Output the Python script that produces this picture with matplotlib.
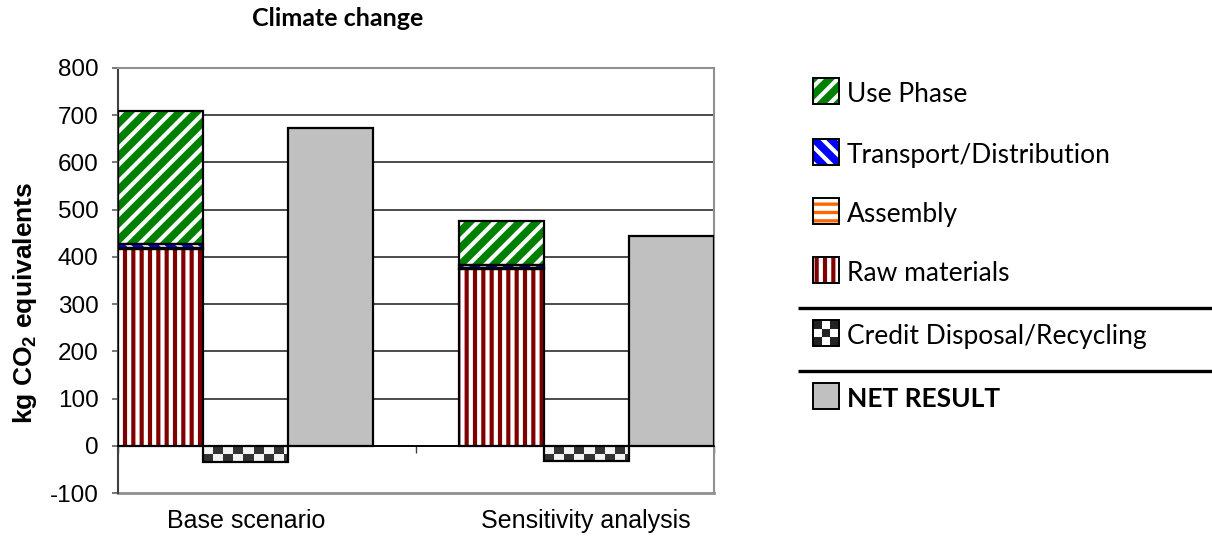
import numpy as np
import matplotlib
matplotlib.use("Agg")
import matplotlib.pyplot as plt
import matplotlib.transforms as mtransforms
from matplotlib.patches import Rectangle

# ---------------- data ----------------
categories = ["Base scenario", "Sensitivity analysis"]
raw_materials = [416, 374]
assembly = [3, 2]
transport = [9, 7]
use_phase = [280, 93]
credit = [-34, -32]
net_result = [674, 444]
yticks = [-100, 0, 100, 200, 300, 400, 500, 600, 700, 800]
legend_labels = ["Use Phase", "Transport/Distribution", "Assembly",
                 "Raw materials", "Credit Disposal/Recycling", "NET RESULT"]

W, H = 1212, 536
plt.rcParams["font.family"] = ["Liberation Sans", "DejaVu Sans"]
plt.rcParams["mathtext.fontset"] = "custom"
plt.rcParams["mathtext.rm"] = "Liberation Sans"
plt.rcParams["mathtext.bf"] = "Liberation Sans:bold"
LEG_FONT = ["Lato", "DejaVu Sans"]

fig = plt.figure(figsize=(W / 100, H / 100), dpi=100)
ax = fig.add_axes([118 / W, 1 - 493 / H, (714 - 118) / W, (493 - 68) / H])

styles = {
    "use": dict(face="#008000", hatch="//", hcol="white", hlw=3.0),
    "transport": dict(face="#0000FF", hatch="\\\\", hcol="white", hlw=3.0),
    "assembly": dict(face="white", hatch="--", hcol="#FF6600", hlw=2.4),
    "raw": dict(face="#800000", hatch="||", hcol="white", hlw=3.0),
}


def hatched_bar(axis, x, h, bottom, st, width=1.0):
    with plt.rc_context({"hatch.linewidth": st["hlw"]}):
        bars = axis.bar(x, h, width=width, bottom=bottom, color=st["face"],
                        hatch=st["hatch"], edgecolor=st["hcol"], linewidth=0,
                        zorder=2)
    for p in bars.patches:
        if hasattr(p, "set_hatch_linewidth"):
            p.set_hatch_linewidth(st["hlw"])
    axis.bar(x, h, width=width, bottom=bottom, fill=False,
             edgecolor="black", linewidth=1.6, zorder=3)
    return bars


group = np.array([0.0, 4.0])
raw = np.array(raw_materials, float)
asm = np.array(assembly, float)
trn = np.array(transport, float)
use = np.array(use_phase, float)

hatched_bar(ax, group, raw, 0, styles["raw"])
hatched_bar(ax, group, asm, raw, styles["assembly"])
hatched_bar(ax, group, trn, raw + asm, styles["transport"])
hatched_bar(ax, group, use, raw + asm + trn, styles["use"])

# credit bars with checkerboard texture
cb = ax.bar(group + 1, credit, width=1.0, color="white", linewidth=0, zorder=2)
cell_w = 10 / 85.0          # ~10 px per checker cell horizontally
cell_h = 8.5 / (425 / 900.0)  # ~8.5 px per checker cell vertically
for p, v in zip(cb.patches, credit):
    x0 = p.get_x()
    ncol = int(np.ceil(1.0 / cell_w)) + 1
    nrow = int(np.ceil(abs(v) / cell_h)) + 1
    board = (np.add.outer(np.arange(nrow), np.arange(ncol)) % 2)
    img = ax.imshow(board, cmap=matplotlib.colors.ListedColormap(["#f4f4f4", "#333333"]),
                    extent=(x0, x0 + ncol * cell_w, -nrow * cell_h, 0),
                    origin="upper", interpolation="nearest", aspect="auto",
                    zorder=2.1)
    img.set_clip_path(p)
ax.bar(group + 1, credit, width=1.0, fill=False, edgecolor="black",
       linewidth=1.6, zorder=3)

ax.bar(group + 2, net_result, width=1.0, color="#C0C0C0", edgecolor="black",
       linewidth=1.6, zorder=3)

ax.set_xlim(-0.5, 6.5)
ax.set_ylim(yticks[0], yticks[-1])
ax.set_yticks(yticks)
ax.set_yticklabels([str(v) for v in yticks], fontsize=17.5)
ax.tick_params(axis="y", direction="out", length=4.5, width=1.2,
               color="#606060", pad=9.5)
for v in yticks[1:]:
    ax.axhline(v, color="#1a1a1a", lw=1.1, zorder=0.5)

for s in ("top", "right"):
    ax.spines[s].set_color("#909090")
    ax.spines[s].set_linewidth(1.5)
ax.spines["left"].set_color("#404040")
ax.spines["left"].set_linewidth(1.5)
ax.axhline(yticks[0], color="#909090", lw=2.0, zorder=1, clip_on=False)

# category axis at zero
ax.spines["bottom"].set_position(("data", 0))
ax.spines["bottom"].set_color("black")
ax.spines["bottom"].set_linewidth(1.3)
ax.spines["bottom"].set_zorder(4)
ax.set_xticks([-0.5, 3.0, 6.5])
ax.set_xticklabels([])
ax.tick_params(axis="x", direction="out", length=5, width=1.0, color="#404040")

trans = mtransforms.blended_transform_factory(ax.transData, ax.transAxes)
for gx, lab in zip(group + 1, categories):
    ax.text(gx, -(528 - 493) / 425, lab, transform=trans, ha="center",
            va="baseline", fontsize=18)

fig.text(25 / W, 1 - 302.5 / H, r"kg CO$_\mathbf{2}$ equivalents",
         rotation=90, ha="center", va="center", fontsize=19, fontweight="bold")
fig.text(337.5 / W, 1 - 19 / H, "Climate change", ha="center", va="center",
         fontsize=18, fontweight="bold", family=LEG_FONT)

# ---------------- legend ----------------
lax = fig.add_axes([0, 0, 1, 1])
lax.axis("off")
tops = [78, 139, 198, 257, 320, 383]
keys = ["use", "transport", "assembly", "raw", "credit", "net"]
for t, k, lab in zip(tops, keys, legend_labels):
    if k in styles:
        st = styles[k]
        with plt.rc_context({"hatch.linewidth": st["hlw"]}):
            r = Rectangle((813, t), 26, 26, facecolor=st["face"],
                          hatch=st["hatch"], edgecolor=st["hcol"], linewidth=0)
        if hasattr(r, "set_hatch_linewidth"):
            r.set_hatch_linewidth(st["hlw"])
        lax.add_patch(r)
    elif k == "credit":
        board = (np.add.outer(np.arange(3), np.arange(3)) + 1) % 2
        lax.imshow(board, cmap=matplotlib.colors.ListedColormap(["white", "#222222"]),
                   extent=(813, 839, t + 26, t), origin="upper",
                   interpolation="nearest", aspect="auto")
    else:
        lax.add_patch(Rectangle((813, t), 26, 26, facecolor="#C0C0C0",
                                edgecolor="none"))
    lax.add_patch(Rectangle((813, t), 26, 26, fill=False, edgecolor="black",
                            linewidth=1.4))
    lax.text(847, t + 24, lab, ha="left", va="baseline", fontsize=19,
             family=LEG_FONT, fontweight="bold" if k == "net" else "normal")

for yy in (308, 371):
    lax.plot([798, W], [yy, yy], color="black", lw=2.4, solid_capstyle="butt")

lax.set_xlim(0, W)
lax.set_ylim(H, 0)

fig.savefig("out.png", dpi=100)
